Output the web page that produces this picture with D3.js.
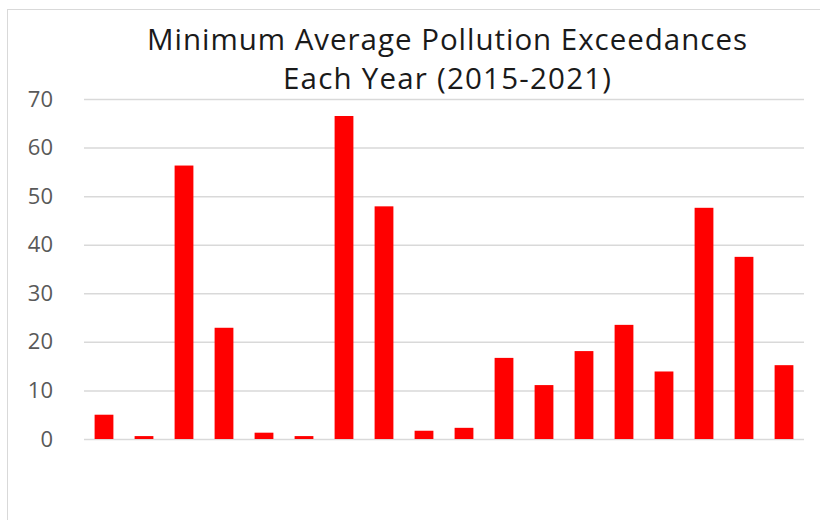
<!DOCTYPE html>
<html>
<head>
<meta charset="utf-8">
<script src="https://cdn.jsdelivr.net/npm/d3@7/dist/d3.min.js"></script>
<style>
  html, body { margin: 0; padding: 0; background: #fff; }
  svg { display: block; }
</style>
</head>
<body>
<svg id="chart" width="820" height="520"></svg>
<script>
// Minimum average pollution exceedances, one bar per site/period
const categories = d3.range(1, 19).map(String);
const exceedances = [5, 0.6, 56.3, 22.9, 1.3, 0.6, 66.5, 47.9, 1.7, 2.3, 16.7, 11.1, 18.1, 23.5, 13.9, 47.6, 37.5, 15.2];
const yTicks = [0, 10, 20, 30, 40, 50, 60, 70];
const titleLines = ["Minimum Average Pollution Exceedances", "Each Year (2015-2021)"];

const svg = d3.select("#chart");
const W = 820, H = 520;
const margin = { left: 84, right: 16, top: 99, bottom: 81 };

// chart-area border
svg.append("rect")
  .attr("x", 7.5).attr("y", 9.5)
  .attr("width", W).attr("height", H)
  .attr("fill", "#fff")
  .attr("stroke", "#d9d9d9").attr("stroke-width", 1);

const x = d3.scaleBand()
  .domain(categories)
  .range([margin.left, W - margin.right])
  .paddingInner(0.53)
  .paddingOuter(0.265);

const y = d3.scaleLinear()
  .domain([0, 70])
  .range([H - margin.bottom, margin.top]);

// gridlines + tick labels via axis
const yAxis = d3.axisLeft(y)
  .tickValues(yTicks)
  .tickSize(-(W - margin.right - margin.left))
  .tickPadding(31)
  .tickFormat(d3.format("d"));

const gy = svg.append("g")
  .attr("transform", `translate(${margin.left},0)`)
  .call(yAxis);
gy.select(".domain").remove();
gy.selectAll(".tick line")
  .attr("stroke", "#d9d9d9").attr("stroke-width", 1.5);
gy.selectAll(".tick text")
  .attr("fill", "#595959")
  .attr("font-family", "'Open Sans', 'Noto Sans', sans-serif")
  .attr("font-size", 22);

// bars
svg.append("g")
  .selectAll("rect")
  .data(exceedances)
  .join("rect")
  .attr("x", (d, i) => x(categories[i]))
  .attr("y", d => y(d))
  .attr("width", x.bandwidth())
  .attr("height", d => y(0) - y(d))
  .attr("fill", "#ff0000");

// title, two centred lines
const titleWidths = [600, 328];
svg.append("g")
  .selectAll("text")
  .data(titleLines)
  .join("text")
  .attr("x", 447)
  .attr("y", (d, i) => 50 + i * 39)
  .attr("text-anchor", "middle")
  .attr("font-family", "'Open Sans', 'Noto Sans', sans-serif")
  .attr("font-size", 29.5)
  .attr("fill", "#1a1a1a")
  .attr("textLength", (d, i) => titleWidths[i])
  .attr("lengthAdjust", "spacing")
  .text(d => d);
</script>
</body>
</html>
